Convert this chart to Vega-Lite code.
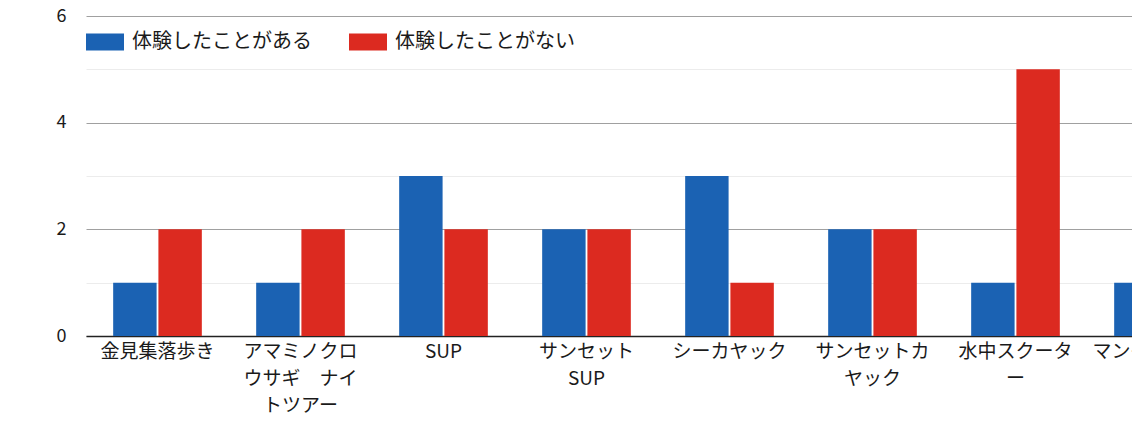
{
  "$schema": "https://vega.github.io/schema/vega-lite/v6.json",
  "width": 1144,
  "height": 320,
  "padding": {"left": 56, "top": 7, "right": 0, "bottom": 5},
  "background": "white",
  "config": {
    "font": "Noto Sans CJK JP",
    "view": {"stroke": null},
    "axis": {"labelFont": "Noto Sans CJK JP", "labelColor": "#1a1a1a"},
    "legend": {"labelFont": "Noto Sans CJK JP"}
  },
  "data": {
    "values": [
      {"activity": "金見集落歩き", "group": "体験したことがある", "count": 1},
      {"activity": "金見集落歩き", "group": "体験したことがない", "count": 2},
      {"activity": "アマミノクロウサギ　ナイトツアー", "group": "体験したことがある", "count": 1},
      {"activity": "アマミノクロウサギ　ナイトツアー", "group": "体験したことがない", "count": 2},
      {"activity": "SUP", "group": "体験したことがある", "count": 3},
      {"activity": "SUP", "group": "体験したことがない", "count": 2},
      {"activity": "サンセットSUP", "group": "体験したことがある", "count": 2},
      {"activity": "サンセットSUP", "group": "体験したことがない", "count": 2},
      {"activity": "シーカヤック", "group": "体験したことがある", "count": 3},
      {"activity": "シーカヤック", "group": "体験したことがない", "count": 1},
      {"activity": "サンセットカヤック", "group": "体験したことがある", "count": 2},
      {"activity": "サンセットカヤック", "group": "体験したことがない", "count": 2},
      {"activity": "水中スクーター", "group": "体験したことがある", "count": 1},
      {"activity": "水中スクーター", "group": "体験したことがない", "count": 5},
      {"activity": "マングローブカヌー", "group": "体験したことがある", "count": 1}
    ]
  },
  "mark": {"type": "bar"},
  "encoding": {
    "x": {
      "field": "activity",
      "type": "nominal",
      "sort": null,
      "title": null,
      "scale": {"paddingInner": 0.38, "paddingOuter": 0.19},
      "axis": {
        "labelAngle": 0,
        "labelFontSize": 19,
        "labelLineHeight": 27,
        "labelPadding": 6,
        "labelLimit": 300,
        "ticks": false,
        "domainColor": "#222",
        "domainWidth": 1.5,
        "grid": false,
        "labelExpr": "datum.label == 'アマミノクロウサギ　ナイトツアー' ? ['アマミノクロ','ウサギ　ナイ','トツアー'] : datum.label == 'サンセットSUP' ? ['サンセット','SUP'] : datum.label == 'サンセットカヤック' ? ['サンセットカ','ヤック'] : datum.label == '水中スクーター' ? ['水中スクータ','ー'] : datum.label == 'マングローブカヌー' ? ['マングローブカ','ヌー'] : datum.label"
      }
    },
    "xOffset": {
      "field": "group",
      "sort": ["体験したことがある", "体験したことがない"],
      "scale": {"paddingInner": 0.04}
    },
    "y": {
      "field": "count",
      "type": "quantitative",
      "title": null,
      "scale": {"domain": [0, 6], "nice": false},
      "axis": {
        "values": [0, 1, 2, 3, 4, 5, 6],
        "labelExpr": "datum.value % 2 == 0 ? datum.label : ''",
        "labelFontSize": 18,
        "labelPadding": 20,
        "ticks": false,
        "domain": false,
        "grid": true,
        "gridColor": {"condition": {"test": "datum.value % 2 == 1", "value": "#ececec"}, "value": "#a0a0a0"},
        "gridWidth": 1
      }
    },
    "color": {
      "field": "group",
      "type": "nominal",
      "title": null,
      "scale": {"domain": ["体験したことがある", "体験したことがない"], "range": ["#1b62b3", "#dc2a20"]},
      "legend": {
        "orient": "none",
        "legendX": 0,
        "legendY": 7,
        "direction": "horizontal",
        "symbolType": "M-1,-0.45L1,-0.45L1,0.45L-1,0.45Z",
        "symbolSize": 1444,
        "symbolStrokeWidth": 0,
        "symbolOpacity": 1,
        "labelFontSize": 20,
        "labelColor": "#1a1a1a",
        "labelOffset": 8,
        "columnPadding": 37,
        "labelLimit": 300
      }
    }
  }
}
